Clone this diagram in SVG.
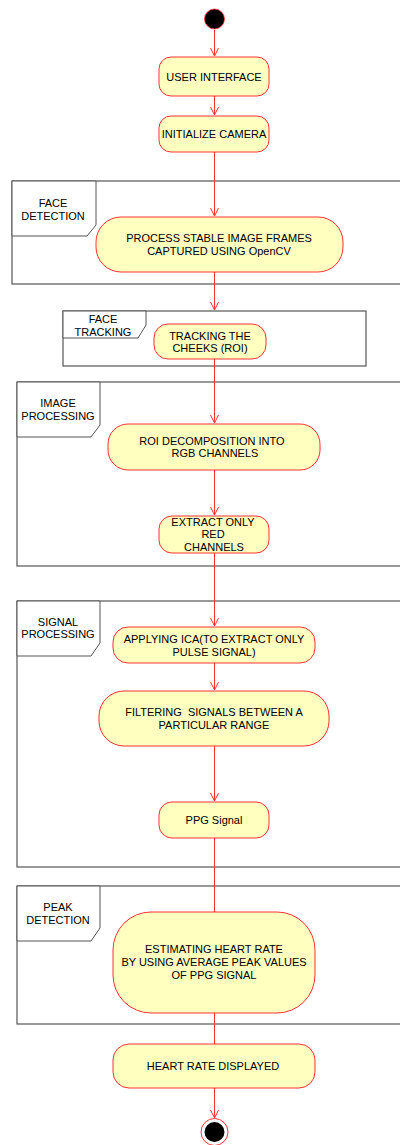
<svg xmlns="http://www.w3.org/2000/svg" width="400" height="1145" viewBox="0 0 400 1145">
<style>
.bg{fill:#ffffff}
.frame{fill:none;stroke:#555555;stroke-width:1.2}
.tab{fill:#ffffff;stroke:#555555;stroke-width:1}
.node{fill:#FFFFC0;stroke:#FF3333;stroke-width:1}
.t{font-family:"Liberation Sans",Arial,sans-serif;font-size:11px;fill:#000000;text-anchor:middle}
.edge{fill:none;stroke:#FF3333;stroke-width:1}
</style>
<defs>
<marker id="arr" markerWidth="10" markerHeight="10" refX="9" refY="5" orient="auto" markerUnits="userSpaceOnUse">
<path d="M1,1 L9,5 L1,9" fill="none" stroke="#FF3333" stroke-width="1"/>
</marker>
</defs>
<rect class="bg" x="0" y="0" width="400" height="1145"/>

<g id="frames">
<g id="frame-face-detection">
<rect class="frame" x="12" y="181" width="400" height="103"/>
<path class="tab" d="M12,181 L96,181 L96,225 L87,236 L12,236 Z"/>
<text class="t" x="53" y="207">FACE</text>
<text class="t" x="53" y="220">DETECTION</text>
</g>
<g id="frame-face-tracking">
<rect class="frame" x="63" y="311" width="303" height="55"/>
<path class="tab" d="M63,311 L146,311 L146,325 L138,338 L63,338 Z"/>
<text class="t" x="103" y="323">FACE</text>
<text class="t" x="103" y="336">TRACKING</text>
</g>
<g id="frame-image-processing">
<rect class="frame" x="17" y="382" width="400" height="184"/>
<path class="tab" d="M17,382 L100,382 L100,425 L91,437 L17,437 Z"/>
<text class="t" x="58" y="407">IMAGE</text>
<text class="t" x="58" y="420">PROCESSING</text>
</g>
<g id="frame-signal-processing">
<rect class="frame" x="17" y="601" width="400" height="266"/>
<path class="tab" d="M17,601 L100,601 L100,643 L91,656 L17,656 Z"/>
<text class="t" x="58" y="626">SIGNAL</text>
<text class="t" x="58" y="638">PROCESSING</text>
</g>
<g id="frame-peak-detection">
<rect class="frame" x="17" y="886" width="400" height="138"/>
<path class="tab" d="M17,886 L100,886 L100,928 L91,941 L17,941 Z"/>
<text class="t" x="58" y="911">PEAK</text>
<text class="t" x="58" y="924">DETECTION</text>
</g>
</g>

<g id="connectors">
<line class="edge" x1="214.5" y1="30" x2="214.5" y2="56" marker-end="url(#arr)"/>
<line class="edge" x1="214.5" y1="96" x2="214.5" y2="115" marker-end="url(#arr)"/>
<line class="edge" x1="214.5" y1="152" x2="214.5" y2="216" marker-end="url(#arr)"/>
<line class="edge" x1="214.5" y1="272" x2="214.5" y2="310" marker-end="url(#arr)"/>
<line class="edge" x1="214.5" y1="359" x2="214.5" y2="423" marker-end="url(#arr)"/>
<line class="edge" x1="214.5" y1="470" x2="214.5" y2="515" marker-end="url(#arr)"/>
<line class="edge" x1="214.5" y1="553" x2="214.5" y2="626" marker-end="url(#arr)"/>
<line class="edge" x1="214.5" y1="663" x2="214.5" y2="690" marker-end="url(#arr)"/>
<line class="edge" x1="214.5" y1="746" x2="214.5" y2="801" marker-end="url(#arr)"/>
<line class="edge" x1="214.5" y1="838" x2="214.5" y2="912"/>
<line class="edge" x1="214.5" y1="1013" x2="214.5" y2="1044"/>
<line class="edge" x1="214.5" y1="1088" x2="214.5" y2="1118" marker-end="url(#arr)"/>
</g>

<g id="start">
<circle cx="214.5" cy="19" r="10" fill="#000000" stroke="#FF3333" stroke-width="0.8"/>
</g>
<g id="user-interface">
<rect class="node" x="159" y="57" width="110" height="39" rx="12"/>
<text class="t" x="214" y="81">USER INTERFACE</text>
</g>
<g id="initialize-camera">
<rect class="node" x="159" y="116" width="110" height="36" rx="12"/>
<text class="t" x="214" y="138">INITIALIZE CAMERA</text>
</g>
<g id="process-frames">
<rect class="node" x="96" y="217" width="247" height="55" rx="25"/>
<text class="t" x="219" y="242">PROCESS STABLE IMAGE FRAMES</text>
<text class="t" x="219" y="255">CAPTURED USING OpenCV</text>
</g>
<g id="tracking-cheeks">
<rect class="node" x="154" y="324" width="112" height="35" rx="14"/>
<text class="t" x="210" y="340">TRACKING THE</text>
<text class="t" x="210" y="352">CHEEKS (ROI)</text>
</g>
<g id="roi-decomposition">
<rect class="node" x="108" y="424" width="212" height="46" rx="20"/>
<text class="t" x="212" y="445">ROI DECOMPOSITION INTO</text>
<text class="t" x="215" y="457">RGB CHANNELS</text>
</g>
<g id="extract-red">
<rect class="node" x="159" y="516" width="110" height="37" rx="13"/>
<text class="t" x="213" y="526">EXTRACT ONLY</text>
<text class="t" x="213" y="538">RED</text>
<text class="t" x="214" y="551">CHANNELS</text>
</g>
<g id="applying-ica">
<rect class="node" x="113" y="627" width="202" height="36" rx="15"/>
<text class="t" x="214" y="643">APPLYING ICA(TO EXTRACT ONLY</text>
<text class="t" x="214" y="656">PULSE SIGNAL)</text>
</g>
<g id="filtering">
<rect class="node" x="99" y="691" width="230" height="55" rx="25"/>
<text class="t" x="214" y="716" xml:space="preserve" style="white-space:pre">FILTERING  SIGNALS BETWEEN A</text>
<text class="t" x="214" y="729">PARTICULAR RANGE</text>
</g>
<g id="ppg-signal">
<rect class="node" x="159" y="802" width="110" height="36" rx="13"/>
<text class="t" x="214" y="824">PPG Signal</text>
</g>
<g id="estimating">
<rect class="node" x="113" y="912" width="202" height="101" rx="38"/>
<text class="t" x="214" y="953">ESTIMATING HEART RATE</text>
<text class="t" x="214" y="966">BY USING AVERAGE PEAK VALUES</text>
<text class="t" x="214" y="979">OF PPG SIGNAL</text>
</g>
<g id="heart-rate-displayed">
<rect class="node" x="113" y="1044" width="202" height="44" rx="16"/>
<text class="t" x="213" y="1070">HEART RATE DISPLAYED</text>
</g>
<g id="end">
<circle cx="214.5" cy="1132" r="13.5" fill="#ffffff" stroke="#FF3333" stroke-width="1"/>
<circle cx="214.5" cy="1132" r="10" fill="#000000"/>
</g>
</svg>
